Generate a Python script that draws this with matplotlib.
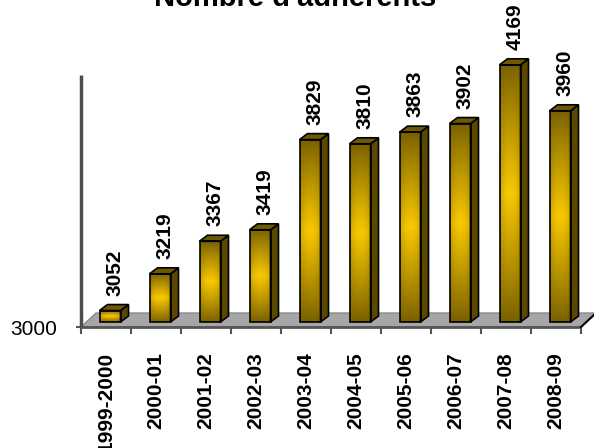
import numpy as np
import matplotlib
matplotlib.use("Agg")
import matplotlib.pyplot as plt
from matplotlib.patches import Polygon

plt.rcParams['font.family'] = ['Liberation Sans', 'DejaVu Sans']

# Data
saisons = ["1999-2000", "2000-01", "2001-02", "2002-03", "2003-04",
           "2004-05", "2005-06", "2006-07", "2007-08", "2008-09"]
adherents = [3052, 3219, 3367, 3419, 3829, 3810, 3863, 3902, 4169, 3960]
titre = "Nombre d'adhérents"
y_min = 3000
y_ticks = [3000]

W, H = 594, 448
fig = plt.figure(figsize=(W / 100, H / 100), dpi=100)
ax = fig.add_axes([81 / W, (H - 327) / H, 500 / W, 327 / H])

n = len(saisons)
px_per_unit = 0.22
y_max = y_min + 327 / px_per_unit
x_lo, x_hi = -0.5, n - 0.5

# data units per pixel
sx = (x_hi - x_lo) / 500
sy = (y_max - y_min) / 327

# Floor of the pseudo-3D scene
fdx, fdy = 15 * sx, 14 * sy
floor = Polygon([(x_lo, y_min), (x_hi, y_min), (x_hi + fdx, y_min + fdy),
                 (x_lo + fdx, y_min + fdy)], closed=True,
                facecolor='#a6a6a6', edgecolor='#8a8a8a', lw=1,
                clip_on=False, zorder=1)
ax.add_patch(floor)
ax.plot([x_lo, x_hi], [y_min, y_min], color='#555555', lw=2,
        clip_on=False, zorder=2, solid_capstyle='butt')
ax.plot([x_hi, x_hi + fdx], [y_min, y_min + fdy], color='black', lw=1.5,
        clip_on=False, zorder=2)
# Vertical axis
ax.plot([x_lo, x_lo], [y_min, y_min + 252 * sy], color='#4d4d4d', lw=2.5,
        clip_on=False, zorder=2, solid_capstyle='butt')

# Gradient for the bar front faces
dark = np.array([0.47, 0.375, 0.0])
bright = np.array([0.98, 0.79, 0.0])
rows, cols = 120, 40
t = np.linspace(0, 1, rows)[:, None]
s = np.linspace(0, 1, cols)[None, :]
vb = 1 - np.abs(t - 0.5) * 2
hb = 1 - 0.3 * (np.abs(s - 0.5) * 2) ** 2
b = (vb ** 0.9) * hb
grad = dark[None, None, :] + (bright - dark)[None, None, :] * b[:, :, None]

front_w = 21 * sx
off_x, off_y = 4 * sx, 5 * sy
side_dx, side_dy = 8 * sx, 6 * sy

x = np.arange(n)
heights = [v - y_min for v in adherents]
bars = ax.bar(x + off_x, heights, width=front_w, bottom=y_min + off_y,
              facecolor='none', edgecolor='black', lw=1.2, zorder=5)

for xi, v, rect in zip(x, adherents, bars):
    x0 = xi + off_x - front_w / 2
    x1 = x0 + front_w
    yb = y_min + off_y
    yt = v + off_y
    im = ax.imshow(grad, extent=(x0, x1, yb, yt), aspect='auto',
                   origin='upper', interpolation='bilinear', zorder=4)
    im.set_clip_path(rect)
    side = Polygon([(x1, yb), (x1 + side_dx, yb + side_dy),
                    (x1 + side_dx, yt + side_dy), (x1, yt)], closed=True,
                   facecolor='#5a4700', edgecolor='black', lw=1.2, zorder=4)
    top = Polygon([(x0, yt), (x1, yt), (x1 + side_dx, yt + side_dy),
                   (x0 + side_dx, yt + side_dy)], closed=True,
                  facecolor='#6e5900', edgecolor='black', lw=1.2, zorder=4)
    ax.add_patch(side)
    ax.add_patch(top)
    ax.annotate(str(v), xy=(xi + 9 * sx, yt), xytext=(0, 15 * 0.72),
                textcoords='offset points', rotation=90, ha='center',
                va='bottom', fontsize=15, fontweight='bold', zorder=6,
                annotation_clip=False)

ax.set_xlim(x_lo, x_hi)
ax.set_ylim(y_min, y_max)
for sp in ax.spines.values():
    sp.set_visible(False)

ax.set_xticks(x)
ax.set_xticklabels(saisons, rotation=90, fontsize=15, fontweight='bold')
ax.set_xticks(np.arange(n + 1) - 0.5, minor=True)
ax.tick_params(axis='x', which='major', length=0, pad=18)
ax.tick_params(axis='x', which='minor', length=5, width=1.5,
               color='#555555', direction='out')
ax.set_yticks(y_ticks)
ax.set_yticklabels([str(v) for v in y_ticks], fontsize=15)
ax.tick_params(axis='y', length=3.6, width=1.5, color='#555555', pad=13.5)

fig.text(295 / W, 1 - 6 / H, titre, ha='center', va='baseline',
         fontsize=21, fontweight='bold')

fig.savefig('out.png', dpi=100)
